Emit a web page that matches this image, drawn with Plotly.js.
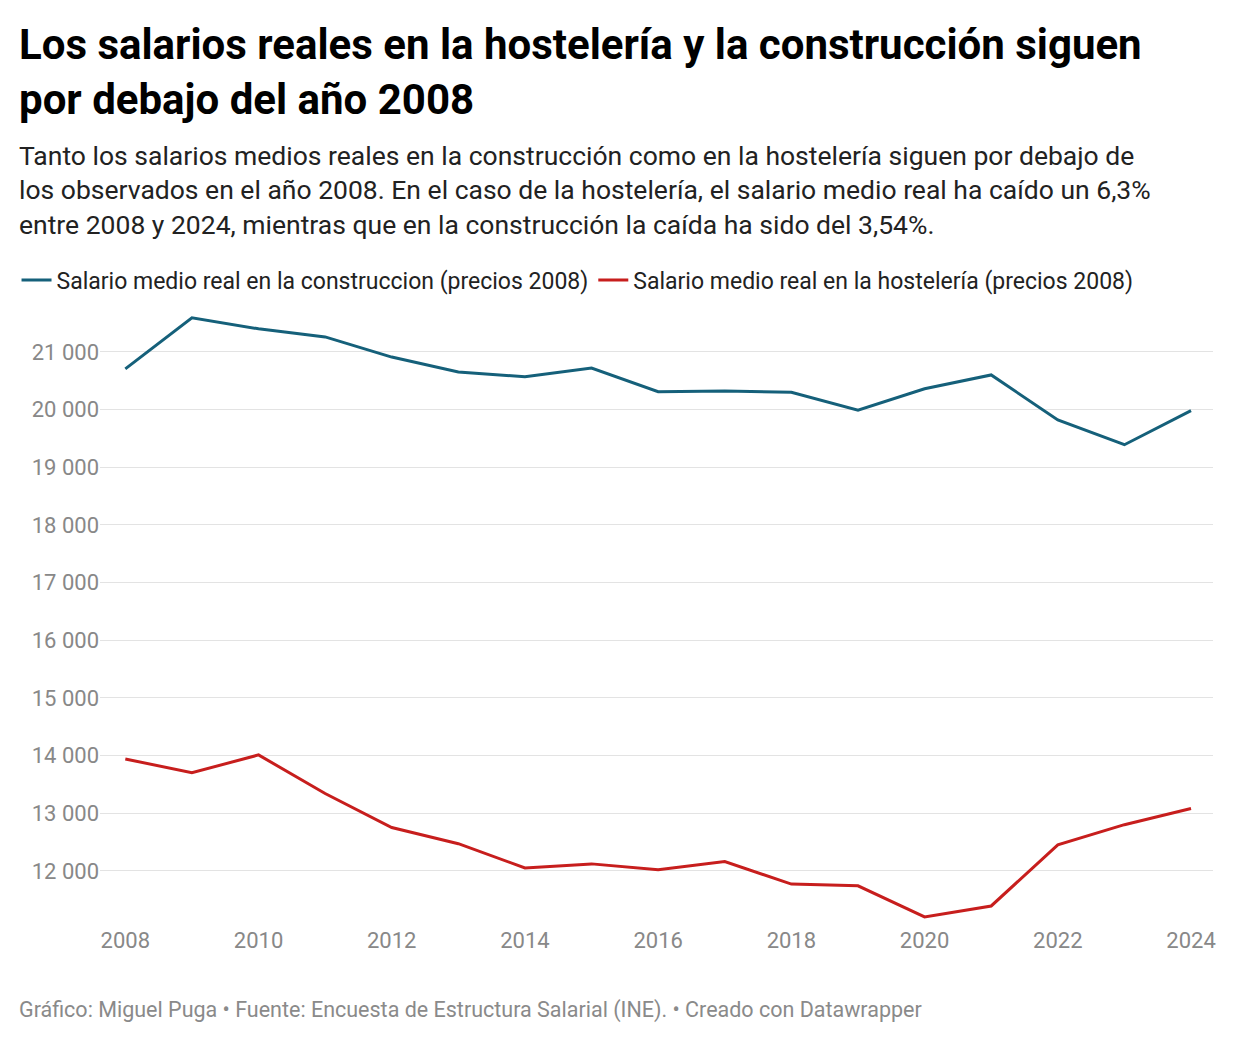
<!DOCTYPE html>
<html>
<head>
<meta charset="utf-8">
<script src="https://cdn.plot.ly/plotly-3.0.1.min.js"></script>
<style>body{margin:0;background:#fff}</style>
</head>
<body>
<div id="chart" style="width:1240px;height:1044px"></div>
<script>
let years = [2008, 2009, 2010, 2011, 2012, 2013, 2014, 2015, 2016, 2017, 2018, 2019, 2020, 2021, 2022, 2023, 2024]
let construccion = [20705, 21590, 21400, 21260, 20910, 20650, 20570, 20720, 20310, 20320, 20300, 19990, 20360, 20600, 19820, 19390, 19980]
let hosteleria = [13940, 13700, 14010, 13340, 12750, 12470, 12050, 12120, 12020, 12160, 11770, 11740, 11200, 11390, 12450, 12800, 13080]
let yTicks = [12000, 13000, 14000, 15000, 16000, 17000, 18000, 19000, 20000, 21000]
let xTicks = [2008, 2010, 2012, 2014, 2016, 2018, 2020, 2022, 2024]

var font = 'Roboto, sans-serif'

var data = [
  {x: years, y: construccion, name: 'Salario medio real en la construccion (precios 2008)',
   type: 'scatter', mode: 'lines', line: {color: '#15607a', width: 3}},
  {x: years, y: hosteleria, name: 'Salario medio real en la hostelería (precios 2008)',
   type: 'scatter', mode: 'lines', line: {color: '#c71e1d', width: 3}}
]

var layout = {
  width: 1240, height: 1044,
  margin: {l: 100, r: 27, t: 300, b: 119},
  separators: ', ',
  font: {family: font, color: '#333'},
  showlegend: true,
  legend: {orientation: 'h', x: -0.075, xanchor: 'left', y: 1.032, yanchor: 'middle',
    font: {size: 23, color: '#222'}, itemwidth: 30, traceorder: 'normal'},
  xaxis: {range: [2007.62, 2024.33], tickvals: xTicks, showgrid: false, zeroline: false,
    ticks: '', tickfont: {size: 22, color: '#888'}, showline: false},
  yaxis: {range: [11060, 21900], tickvals: yTicks, tickformat: ',d', gridcolor: '#e3e3e3',
    gridwidth: 1, zeroline: false, ticks: '', tickfont: {size: 22, color: '#888'}},
  annotations: [
    {xref: 'paper', yref: 'paper', x: -0.075, xanchor: 'left', y: 1.452, yanchor: 'top',
     align: 'left', showarrow: false,
     text: '<b>Los salarios reales en la hostelería y la construcción siguen<br>por debajo del año 2008</b>',
     font: {size: 42, color: '#000'}},
    {xref: 'paper', yref: 'paper', x: -0.075, xanchor: 'left', y: 1.26, yanchor: 'top',
     align: 'left', showarrow: false,
     text: 'Tanto los salarios medios reales en la construcción como en la hostelería siguen por debajo de<br>los observados en el año 2008. En el caso de la hostelería, el salario medio real ha caído un 6,3%<br>entre 2008 y 2024, mientras que en la construcción la caída ha sido del 3,54%.',
     font: {size: 26.5, color: '#222'}},
    {xref: 'paper', yref: 'paper', x: -0.075, xanchor: 'left', y: -0.136, yanchor: 'middle',
     align: 'left', showarrow: false,
     text: 'Gráfico: Miguel Puga • Fuente: Encuesta de Estructura Salarial (INE). • Creado con Datawrapper',
     font: {size: 21.5, color: '#8a8a8a'}}
  ]
}

Plotly.newPlot('chart', data, layout, {displayModeBar: false})
</script>
</body>
</html>
